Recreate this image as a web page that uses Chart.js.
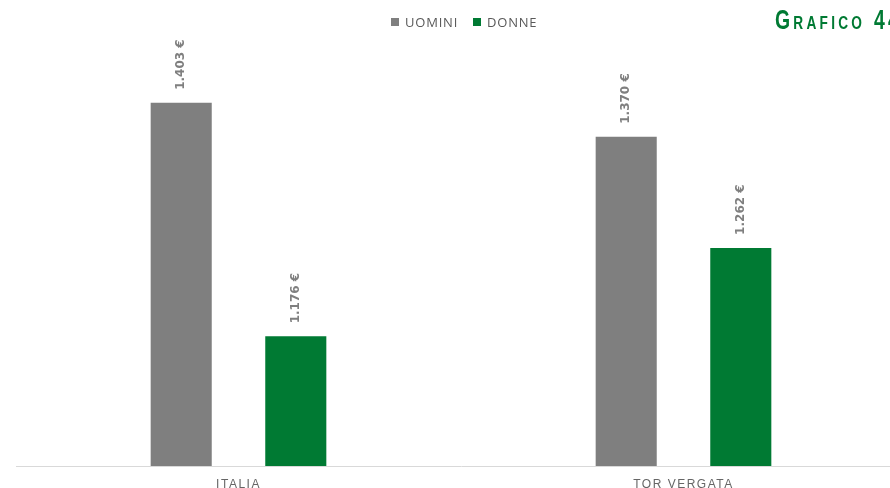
<!DOCTYPE html>
<html><head><meta charset="utf-8">
<script src="https://cdn.jsdelivr.net/npm/chart.js@4.4.1/dist/chart.umd.min.js"></script>
<style>
html,body{margin:0;padding:0;background:#fff;overflow:hidden;width:890px;height:488px;}
#wrap{position:absolute;left:0;top:0;width:930px;height:505px;}
.leg{position:absolute;top:12px;font:13px "Open Sans",sans-serif;color:#595959;letter-spacing:0.8px;line-height:20px;white-space:nowrap}
.sw{position:absolute;width:8px;height:8px;top:18px}
#title{position:absolute;left:775px;top:5px;font:bold 27px "Liberation Sans",sans-serif;font-variant:small-caps;color:#007a33;letter-spacing:4.5px;transform:scaleX(0.72);transform-origin:0 0;white-space:nowrap;line-height:30px}
</style></head><body>
<div id="wrap"><canvas id="c" width="930" height="505"></canvas></div>
<div class="sw" style="left:391px;background:#7f7f7f"></div>
<div class="leg" id="l0" style="left:405px"></div>
<div class="sw" style="left:473px;background:#007a33"></div>
<div class="leg" id="l1" style="left:487px"></div>
<div id="title">Grafico 44</div>
<script>
const categories = ['ITALIA', 'TOR VERGATA'];
const seriesNames = ['UOMINI', 'DONNE'];
const uomini = [1403, 1370];
const donne = [1176, 1262];
const yMin = 1050;
const yMax = 1500;

document.getElementById('l0').textContent = seriesNames[0];
document.getElementById('l1').textContent = seriesNames[1];

function fmt(v){ return v.toLocaleString('de-DE') + ' €'; }

const spacingPlugin = {
  id: 'spacing',
  beforeDraw(chart){ chart.ctx.letterSpacing = '1.5px'; }
};
const labelPlugin = {
  id: 'barLabels',
  afterDatasetsDraw(chart){
    const ctx = chart.ctx;
    ctx.save();
    ctx.letterSpacing = '0px';
    ctx.font = 'bold 12px "DejaVu Sans"';
    ctx.fillStyle = '#7f7f7f';
    ctx.textAlign = 'left';
    ctx.textBaseline = 'middle';
    chart.data.datasets.forEach((ds, di) => {
      chart.getDatasetMeta(di).data.forEach((bar, i) => {
        ctx.save();
        ctx.translate(bar.x, bar.y - 13);
        ctx.rotate(-Math.PI / 2);
        ctx.fillText(fmt(ds.data[i]), 0, 0);
        ctx.restore();
      });
    });
    ctx.restore();
  }
};

new Chart(document.getElementById('c'), {
  type: 'bar',
  data: {
    labels: categories,
    datasets: [
      { label: seriesNames[0], data: uomini, backgroundColor: '#7f7f7f', categoryPercentage: 0.515, barPercentage: 0.533 },
      { label: seriesNames[1], data: donne, backgroundColor: '#007a33', categoryPercentage: 0.515, barPercentage: 0.533 }
    ]
  },
  options: {
    responsive: false,
    animation: false,
    devicePixelRatio: 1,
    layout: { padding: { left: 16, right: 24, top: 3, bottom: 1 } },
    plugins: { legend: { display: false }, tooltip: { enabled: false } },
    scales: {
      x: {
        grid: { display: false, drawTicks: false },
        border: { color: '#d9d9d9', width: 1 },
        ticks: { color: '#666666', padding: 13, font: { family: 'Liberation Sans', size: 12, lineHeight: 1 } }
      },
      y: { display: false, min: yMin, max: yMax }
    }
  },
  plugins: [spacingPlugin, labelPlugin]
});
</script>
</body></html>
